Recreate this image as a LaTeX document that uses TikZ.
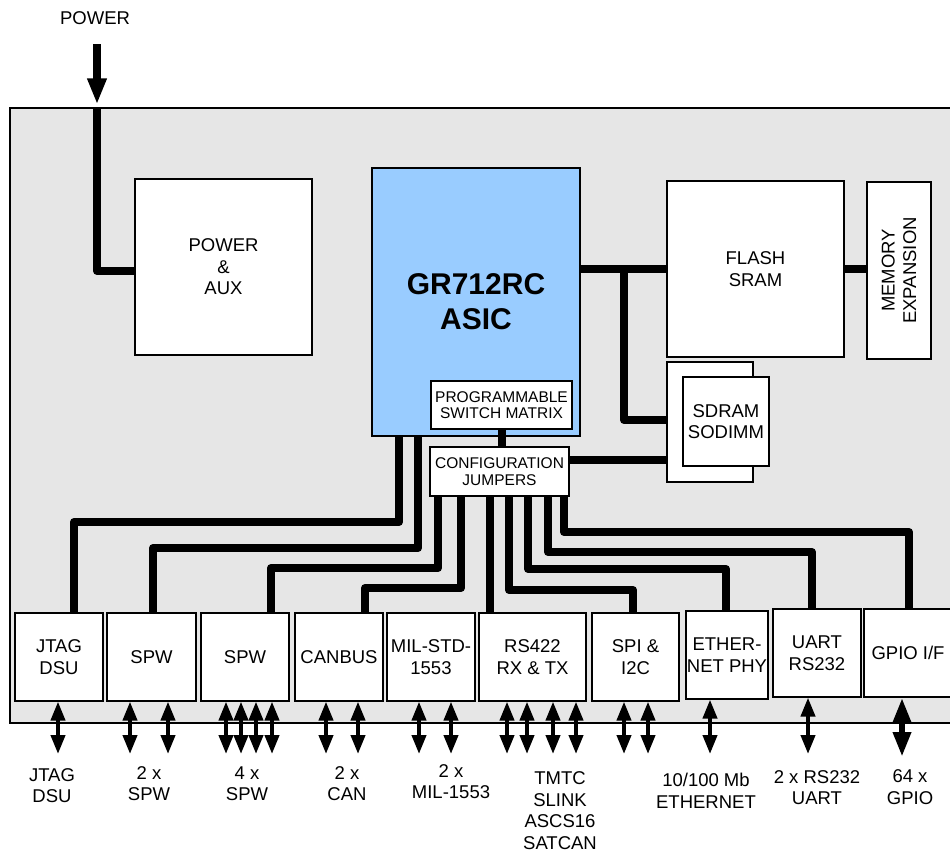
\documentclass[tikz,border=0pt]{standalone}
\usepackage{fontspec}
\setmainfont{Liberation Sans}
\usetikzlibrary{arrows.meta}
\definecolor{boardgrey}{HTML}{E6E6E6}
\definecolor{asicblue}{HTML}{99CCFF}
\begin{document}
\begin{tikzpicture}[x=1pt,y=-1pt,
  box/.style={draw=black, line width=1.2pt, fill=white, inner sep=0pt, align=center,
              font=\fontsize{18.5}{21.5}\selectfont},
  small/.style={font=\fontsize{15.5}{16.5}\selectfont},
  bus/.style={line width=8pt, line join=round},
  bidir/.style={line width=4pt, {Triangle[width=14pt,length=19pt]}-{Triangle[width=14pt,length=19pt]}},
  bigbidir/.style={line width=6.5pt, {Triangle[width=17pt,length=25pt]}-{Triangle[width=17pt,length=25pt]}},
  pwrarrow/.style={line width=8pt, -{Triangle[width=18pt,length=26pt]}},
  lbl/.style={align=center, inner sep=0pt, font=\fontsize{18.5}{21.5}\selectfont}]
\useasboundingbox (0,0) rectangle (950,852);
\clip (0,0) rectangle (950,852);

% board
\node[draw=black, line width=1.2pt, fill=boardgrey, minimum width=960pt, minimum height=615pt, inner sep=0pt] (board) at (490,415.5) {};

% power input
\node[lbl] (powerlbl) at (95,18) {POWER};
\draw[pwrarrow, shorten <=19.5pt, shorten >=3pt] (powerlbl.south -| 97,0) -- (board.north -| 97,0);

% main blocks
\node[box, minimum width=177pt, minimum height=176pt] (pwr) at (223.5,267) {POWER\\\&\\AUX};
\node[box, fill=asicblue, minimum width=208pt, minimum height=268pt,
      font=\bfseries\fontsize{30}{35}\selectfont] (asic) at (476,302) {GR712RC\\ASIC};
\node[box, small, minimum width=141pt, minimum height=48pt] (psm) at (501.5,405) {PROGRAMMABLE\\SWITCH MATRIX};
\node[box, small, minimum width=139pt, minimum height=49pt] (cj) at (499.5,471.5) {CONFIGURATION\\JUMPERS};
\node[box, minimum width=177pt, minimum height=176pt] (flash) at (755.5,269) {FLASH\\SRAM};
\node[box, minimum width=64pt, minimum height=177pt] (memexp) at (899,270.5) {};
\node[lbl, rotate=90] (memexplbl) at (memexp.center) {MEMORY\\EXPANSION};
\node[box, minimum width=86pt, minimum height=120pt] (sdramo) at (710,422) {};
\node[box, minimum width=86pt, minimum height=89pt] (sdrami) at (726,421.5) {SDRAM\\SODIMM};

% interface blocks
\node[box, minimum width=88pt, minimum height=88pt] (jtag) at (59,657) {JTAG\\DSU};
\node[box, minimum width=89pt, minimum height=88pt] (spw1) at (151.5,657) {SPW};
\node[box, minimum width=88pt, minimum height=88pt] (spw2) at (245,657) {SPW};
\node[box, minimum width=88pt, minimum height=88pt] (can) at (339,657) {CANBUS};
\node[box, minimum width=88pt, minimum height=88pt] (mil) at (431,657) {MIL-STD-\\1553};
\node[box, minimum width=107pt, minimum height=88pt] (rs422) at (532.5,657) {RS422\\RX \& TX};
\node[box, minimum width=87pt, minimum height=88pt] (spi) at (635.5,657) {SPI \&\\I2C};
\node[box, minimum width=82pt, minimum height=88pt] (eth) at (727,655) {ETHER-\\NET PHY};
\node[box, minimum width=88pt, minimum height=88pt] (uart) at (817,653) {UART\\RS232};
\node[box, minimum width=88pt, minimum height=88pt] (gpio) at (908,653) {GPIO I/F};

% power bus
\draw[bus] (board.north -| 97,0) -- (97,271) -- ([yshift=-4pt]pwr.west);

% memory buses
\draw[bus] (flash.west -| asic.east) -- (flash.west);
\draw[bus] (flash.east) -- (flash.east -| memexp.west);
\draw[bus] (flash.west -| 624,0) -- (624,420) -- ([yshift=2pt]sdramo.west);
\coordinate (cjr) at ([yshift=11.5pt]cj.east);
\draw[bus] (cjr) -- (cjr -| sdramo.west);
\draw[bus] (psm.south) -- (cj.north -| psm.south);

% interface buses
\draw[bus] (asic.south -| 399,0) -- (399,522) -- (74,522) -- (jtag.north -| 74,0);
\draw[bus] (asic.south -| 418,0) -- (418,548) -- (153,548) -- (spw1.north -| 153,0);
\draw[bus] (cj.south -| 438,0) -- (438,568) -- (271,568) -- (spw2.north -| 271,0);
\draw[bus] (cj.south -| 461,0) -- (461,588) -- (365,588) -- (can.north -| 365,0);
\draw[bus] (cj.south -| 490,0) -- (rs422.north -| 490,0);
\draw[bus] (cj.south -| 509,0) -- (509,590) -- (633,590) -- (spi.north -| 633,0);
\draw[bus] (cj.south -| 528,0) -- (528,569) -- (726,569) -- (eth.north -| 726,0);
\draw[bus] (cj.south -| 548,0) -- (548,552) -- (812,552) -- (uart.north -| 812,0);
\draw[bus] (cj.south -| 564,0) -- (564,532) -- (909,532) -- (gpio.north -| 909,0);

% external arrows
\coordinate (abase) at (0,754);
\coordinate (gbase) at (0,757);
\draw[bidir] (jtag.south -| 58,0) -- (abase -| 58,0);
\foreach \x in {130,168} \draw[bidir] (spw1.south -| \x,0) -- (abase -| \x,0);
\foreach \x in {226,241,256,272} \draw[bidir] (spw2.south -| \x,0) -- (abase -| \x,0);
\foreach \x in {326,358} \draw[bidir] (can.south -| \x,0) -- (abase -| \x,0);
\foreach \x in {419,451} \draw[bidir] (mil.south -| \x,0) -- (abase -| \x,0);
\foreach \x in {507,527,553,576} \draw[bidir] (rs422.south -| \x,0) -- (abase -| \x,0);
\foreach \x in {624,648} \draw[bidir] (spi.south -| \x,0) -- (abase -| \x,0);
\draw[bidir] (eth.south -| 710,0) -- (abase -| 710,0);
\draw[bidir] (uart.south -| 808,0) -- (abase -| 808,0);
\draw[bigbidir] (gpio.south -| 902,0) -- (gbase -| 902,0);

% external labels
\node[lbl] (l1) at (52,785.5) {JTAG\\DSU};
\node[lbl] (l2) at (149,783.5) {2 x\\SPW};
\node[lbl] (l3) at (247,783.5) {4 x\\SPW};
\node[lbl] (l4) at (347,783.5) {2 x\\CAN};
\node[lbl] (l5) at (451,781.7) {2 x\\MIL-1553};
\node[lbl] (l6) at (560,810.5) {TMTC\\SLINK\\ASCS16\\SATCAN};
\node[lbl] (l7) at (706,791) {10/100 Mb\\ETHERNET};
\node[lbl] (l8) at (817,787.5) {2 x RS232\\UART};
\node[lbl] (l9) at (910,787) {64 x\\GPIO};
\end{tikzpicture}
\end{document}
